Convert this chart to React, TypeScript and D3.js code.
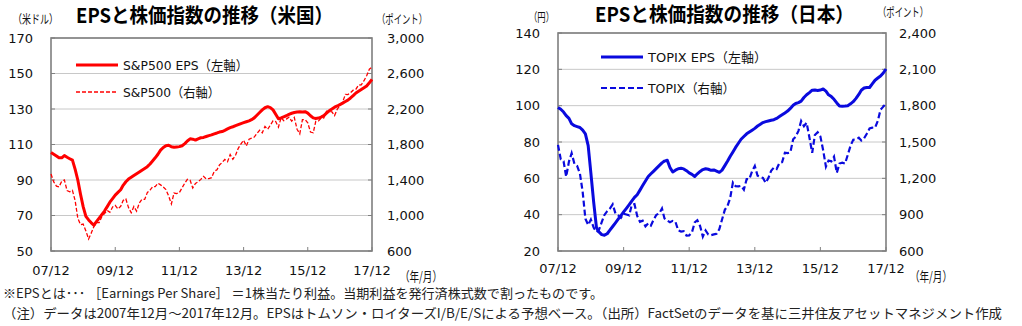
import React from "react";
import * as d3 from "d3";

// Monthly data, Dec 2007 .. Dec 2017 (121 points)
const usEps = [
  105.5, 104.5, 103.5, 102.5, 102.5, 103.8, 102.8, 102.0, 101.2, 96, 90, 82, 75,
  69.5, 67.5, 66, 64.5, 66.5, 68.5, 70.5, 72.5, 75, 77.5, 79.5, 81.5,
  83, 84.5, 87, 89, 90.5, 91.5, 92.5, 93.5, 94.5, 95.5, 96.5, 97.5,
  99, 100.8, 102.5, 104.5, 106.8, 108.3, 109.3, 109.6, 108.7, 108.4, 108.6, 108.8,
  109.3, 110.5, 112, 113.2, 113, 112.5, 113.2, 113.8, 114, 114.5, 115, 115.4,
  116, 116.5, 117, 117.3, 118, 118.8, 119.5, 120, 120.6, 121.2, 121.8, 122.3,
  122.8, 123.3, 124, 125, 126.5, 128, 129.5, 130.7, 131.3, 130.8, 129.5, 127,
  124.5, 125, 125.6, 126.2, 127, 127.6, 128, 128.3, 128.4, 128.3, 128.5, 127.7,
  126.2, 125, 124.7, 124.9, 125.4, 126.3, 127.7, 129, 130, 131, 131.7, 132.5,
  133.3, 134.2, 135, 136.2, 137.5, 139, 140, 141, 142, 143, 144.8, 146.7,
];
const sp500 = [
  1468,
  1378, 1331, 1323, 1386, 1400, 1280, 1267, 1283, 1166, 969, 896, 903,
  826, 735, 798, 873, 919, 919, 987, 1021, 1057, 1036, 1096, 1115,
  1074, 1104, 1169, 1187, 1089, 1031, 1102, 1049, 1141, 1183, 1181, 1258,
  1286, 1327, 1326, 1364, 1345, 1321, 1292, 1219, 1131, 1253, 1247, 1258,
  1312, 1366, 1408, 1398, 1310, 1362, 1379, 1407, 1441, 1412, 1416, 1426,
  1498, 1515, 1569, 1598, 1631, 1606, 1686, 1633, 1682, 1757, 1806, 1848,
  1783, 1859, 1872, 1884, 1924, 1960, 1931, 2003, 1972, 2018, 2068, 2059,
  1995, 2105, 2068, 2086, 2107, 2063, 2104, 1972, 1920, 2079, 2080, 2044,
  1940, 1932, 2060, 2065, 2097, 2099, 2174, 2171, 2168, 2126, 2199, 2239,
  2279, 2364, 2363, 2384, 2412, 2423, 2470, 2472, 2519, 2575, 2648, 2674,
];
const jpEps = [
  99, 98, 96.5, 94.5, 93, 90, 89, 88.5, 88, 86.5, 84.5, 78, 63,
  47, 33, 30.5, 29, 28.7, 29.5, 31.5, 33.5, 35.5, 37.5, 39.5, 41.5,
  43.5, 45.5, 47.5, 49.5, 51, 53.5, 56, 58.5, 61, 62.5, 64, 65.5,
  67, 68.5, 69.5, 70, 66, 63.5, 64.5, 65.3, 65.5, 65.2, 64.2, 63,
  62.2, 61, 62.5, 63.8, 64.8, 65.3, 65, 64.4, 64.6, 64, 63.3, 64.5,
  67, 69.5, 72, 74.5, 77, 79.3, 81.5, 83, 84.5, 85.5, 86.5, 87.5,
  88.8, 89.8, 90.7, 91.2, 91.6, 92, 92.3, 93, 94, 95, 96, 97,
  98.5, 100.2, 101.2, 101.7, 102.5, 104.5, 106, 107.2, 108.5, 108.6, 108.4, 108.6,
  109.2, 108, 106, 105, 103.5, 101.5, 99.8, 99.7, 99.8, 100, 101, 102.2,
  104, 106.2, 108.5, 109.7, 110, 110, 112, 114, 115.2, 116.3, 118, 120.2,
];
const topix = [
  1476,
  1356, 1341, 1213, 1338, 1408, 1320, 1302, 1241, 1087, 867, 815, 860,
  794, 757, 774, 838, 898, 929, 950, 985, 909, 894, 874, 908,
  901, 894, 979, 987, 889, 841, 850, 804, 829, 810, 860, 899,
  910, 951, 869, 851, 838, 849, 841, 770, 761, 764, 728, 729,
  755, 836, 854, 805, 719, 770, 736, 731, 737, 742, 781, 860,
  940, 975, 1035, 1165, 1135, 1133, 1138, 1106, 1194, 1194, 1258, 1302,
  1221, 1211, 1203, 1163, 1202, 1263, 1289, 1277, 1326, 1333, 1411, 1408,
  1415, 1523, 1543, 1592, 1673, 1630, 1659, 1537, 1411, 1558, 1580, 1547,
  1432, 1297, 1347, 1340, 1379, 1245, 1322, 1329, 1322, 1393, 1469, 1519,
  1521, 1535, 1512, 1531, 1568, 1612, 1618, 1617, 1675, 1766, 1792, 1818,
];

const xTickLabels = ["07/12", "09/12", "11/12", "13/12", "15/12", "17/12"];
const usLeftTicks = [50, 70, 90, 110, 130, 150, 170];
const usRightTicks = [600, 1000, 1400, 1800, 2200, 2600, 3000];
const jpLeftTicks = [20, 40, 60, 80, 100, 120, 140];
const jpRightTicks = [600, 900, 1200, 1500, 1800, 2100, 2400];

const NUM_FONT = "'DejaVu Sans', Verdana, sans-serif";
const JP_FONT = "'Noto Sans CJK JP', 'DejaVu Sans', sans-serif";
const MIX_FONT = "'DejaVu Sans', 'Noto Sans CJK JP', sans-serif";

const months = d3.range(121).map((i) => new Date(2007, 11 + i, 1));
const tickDates = xTickLabels.map((_, i) => new Date(2007 + i * 2, 11, 1));

type Cfg = {
  left: number; right: number; top: number; bottom: number;
  leftDomain: [number, number]; rightDomain: [number, number];
  leftTicks: number[]; rightTicks: number[];
  eps: number[]; idx: number[];
  color: string;
  title: string; titleX: number; titleW: number; titleY: number;
  leftUnit: string; leftUnitX: number; leftUnitW: number; leftUnitY: number;
  rightUnitX: number; rightUnitY: number;
  leftLabelEnd: number; rightLabelStart: number; xLabelY: number;
  legendX: number; legendY1: number; legendY2: number;
  leg1: string; leg1W: number; leg2: string; leg2W: number;
  dash: string; dashW: number; solidW: number;
  ymX: number;
};

function Chart({ c }: { c: Cfg }) {
  const x = d3.scaleTime().domain([months[0], months[120]]).range([c.left, c.right]);
  const yL = d3.scaleLinear().domain(c.leftDomain).range([c.bottom, c.top]);
  const yR = d3.scaleLinear().domain(c.rightDomain).range([c.bottom, c.top]);
  const epsLine = d3.line<number>().x((_, i) => x(months[i])).y((d) => yL(d)).curve(d3.curveLinear);
  const idxLine = d3.line<number>().x((_, i) => x(months[i])).y((d) => yR(d)).curve(d3.curveLinear);
  const fmt = d3.format(",");
  return (
    <g>
      {c.leftTicks.map((t) => (
        <line key={"g" + t} x1={c.left} x2={c.right} y1={yL(t)} y2={yL(t)} stroke="#c8c8c8" strokeWidth={1} />
      ))}
      {c.leftTicks.map((t) => (
        <g key={"lt" + t}>
          <line x1={c.left} x2={c.left + 4} y1={yL(t)} y2={yL(t)} stroke="#808080" strokeWidth={1} />
          <text x={c.leftLabelEnd} y={yL(t) + 4.5} textAnchor="end" fontFamily={NUM_FONT} fontSize={13} fill="#111">{t}</text>
        </g>
      ))}
      {c.rightTicks.map((t) => (
        <g key={"rt" + t}>
          <line x1={c.right - 4} x2={c.right} y1={yR(t)} y2={yR(t)} stroke="#808080" strokeWidth={1} />
          <text x={c.rightLabelStart} y={yR(t) + 4.5} textAnchor="start" fontFamily={NUM_FONT} fontSize={13} fill="#111">{fmt(t)}</text>
        </g>
      ))}
      {tickDates.map((d, i) => (
        <g key={"xt" + i}>
          <line x1={x(d)} x2={x(d)} y1={c.bottom} y2={c.bottom - 4} stroke="#808080" strokeWidth={1} />
          <text x={x(d)} y={c.xLabelY} textAnchor="middle" fontFamily={NUM_FONT} fontSize={13} fill="#111">{xTickLabels[i]}</text>
        </g>
      ))}
      <rect x={c.left} y={c.top} width={c.right - c.left} height={c.bottom - c.top} fill="none" stroke="#7f7f7f" strokeWidth={1.6} />
      <path d={idxLine(c.idx) || ""} fill="none" stroke={c.color} strokeWidth={c.dashW} strokeDasharray={c.dash} />
      <path d={epsLine(c.eps) || ""} fill="none" stroke={c.color} strokeWidth={c.solidW} strokeLinejoin="round" />
      {/* legend */}
      <line x1={c.legendX} x2={c.legendX + 42} y1={c.legendY1} y2={c.legendY1} stroke={c.color} strokeWidth={c.solidW} />
      <text x={c.legendX + 47} y={c.legendY1 + 5} fontFamily={MIX_FONT} fontSize={13} textLength={c.leg1W} lengthAdjust="spacingAndGlyphs" fill="#111">{c.leg1}</text>
      <line x1={c.legendX} x2={c.legendX + 42} y1={c.legendY2} y2={c.legendY2} stroke={c.color} strokeWidth={c.dashW} strokeDasharray={c.dash} />
      <text x={c.legendX + 47} y={c.legendY2 + 5} fontFamily={MIX_FONT} fontSize={13} textLength={c.leg2W} lengthAdjust="spacingAndGlyphs" fill="#111">{c.leg2}</text>
      {/* titles & units */}
      <text x={c.titleX} y={c.titleY} fontFamily={JP_FONT} fontWeight="bold" fontSize={20} textLength={c.titleW} lengthAdjust="spacingAndGlyphs" fill="#000">{c.title}</text>
      <text x={c.leftUnitX} y={c.leftUnitY} fontFamily={JP_FONT} fontSize={12} textLength={c.leftUnitW} lengthAdjust="spacingAndGlyphs" fill="#111">{c.leftUnit}</text>
      <text x={c.rightUnitX} y={c.rightUnitY} fontFamily={JP_FONT} fontSize={12} textLength={50} lengthAdjust="spacingAndGlyphs" fill="#111">（ポイント）</text>
      <text x={c.ymX} y={281} fontFamily={JP_FONT} fontSize={13} textLength={42} lengthAdjust="spacingAndGlyphs" fill="#111">（年/月）</text>
    </g>
  );
}

const usCfg: Cfg = {
  left: 51, right: 372, top: 38, bottom: 251,
  leftDomain: [50, 170], rightDomain: [600, 3000],
  leftTicks: usLeftTicks, rightTicks: usRightTicks,
  eps: usEps, idx: sp500, color: "#ff0000",
  title: "EPSと株価指数の推移（米国）", titleX: 76, titleW: 257, titleY: 23,
  leftUnit: "（米ドル）", leftUnitX: 13, leftUnitW: 45, leftUnitY: 24,
  rightUnitX: 377, rightUnitY: 24,
  leftLabelEnd: 33, rightLabelStart: 387, xLabelY: 275,
  legendX: 76, legendY1: 65, legendY2: 92,
  leg1: "S&P500 EPS（左軸）", leg1W: 125, leg2: "S&P500（右軸）", leg2W: 97,
  dash: "4,2", dashW: 1.3, solidW: 3,
  ymX: 400,
};

const jpCfg: Cfg = {
  left: 558, right: 886, top: 33, bottom: 251,
  leftDomain: [20, 140], rightDomain: [600, 2400],
  leftTicks: jpLeftTicks, rightTicks: jpRightTicks,
  eps: jpEps, idx: topix, color: "#0a0ade",
  title: "EPSと株価指数の推移（日本）", titleX: 595, titleW: 259, titleY: 22,
  leftUnit: "（円）", leftUnitX: 529, leftUnitW: 25, leftUnitY: 22,
  rightUnitX: 878, rightUnitY: 17,
  leftLabelEnd: 540, rightLabelStart: 899, xLabelY: 273,
  legendX: 601, legendY1: 57, legendY2: 88,
  leg1: "TOPIX  EPS（左軸）", leg1W: 119, leg2: "TOPIX（右軸）", leg2W: 87,
  dash: "6,3", dashW: 2.2, solidW: 3,
  ymX: 910,
};

export default function App() {
  return (
    <svg width={1022} height={326} style={{ position: "absolute", left: 0, top: 0, background: "#fff" }}>
      <rect x={0} y={0} width={1022} height={326} fill="#fff" />
      <Chart c={usCfg} />
      <Chart c={jpCfg} />
      <text x={3} y={298} fontFamily={JP_FONT} fontSize={13} textLength={600} lengthAdjust="spacingAndGlyphs" fill="#222">
        ※EPSとは･･･ ［Earnings Per Share］ ＝1株当たり利益。当期利益を発行済株式数で割ったものです。
      </text>
      <text x={3} y={318} fontFamily={JP_FONT} fontSize={13} textLength={999} lengthAdjust="spacingAndGlyphs" fill="#222">
        （注）データは2007年12月～2017年12月。EPSはトムソン・ロイターズI/B/E/Sによる予想ベース。（出所）FactSetのデータを基に三井住友アセットマネジメント作成
      </text>
    </svg>
  );
}
